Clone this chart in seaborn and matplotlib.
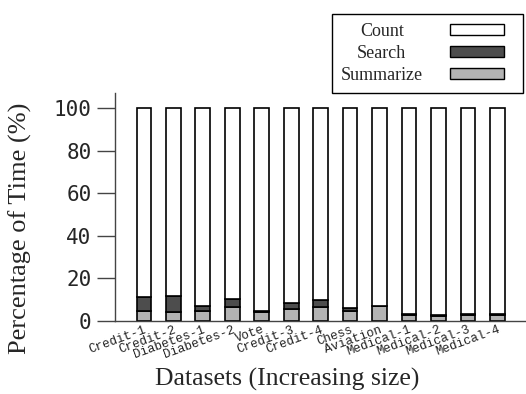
import pandas as pd
import seaborn as sns
import matplotlib
matplotlib.use("Agg")
import matplotlib.pyplot as plt
from matplotlib.patches import Patch, Rectangle
from matplotlib.legend_handler import HandlerPatch

datasets = ["Credit-1", "Credit-2", "Diabetes-1", "Diabetes-2", "Vote", "Credit-3",
            "Credit-4", "Chess", "Aviation", "Medical-1", "Medical-2", "Medical-3", "Medical-4"]
summarize = [4.8, 4.4, 4.7, 6.7, 4.0, 5.6, 6.6, 4.5, 6.9, 3.0, 2.5, 3.0, 3.0]
search = [6.3, 7.5, 2.5, 3.8, 0.8, 3.0, 3.4, 1.7, 0.3, 0.3, 0.3, 0.3, 0.3]
count = [100 - a - b for a, b in zip(summarize, search)]
legend_labels = ["Count", "Search", "Summarize"]

df = pd.DataFrame({"Dataset": datasets, "Summarize": summarize,
                   "Search": search, "Count": count})
df["SearchBottom"] = df["Summarize"]
df["CountBottom"] = df["Summarize"] + df["Search"]

sns.set_style("ticks")

fig = plt.figure(figsize=(5.26, 3.94), dpi=100)
ax = fig.add_axes([115 / 526, 1 - 321 / 394, 1 - 115 / 526, 107 * 2.13 / 394])

# stacked bars
sns.barplot(x="Dataset", y="Summarize", data=df, color="#b3b3b3", width=0.5,
            edgecolor="black", linewidth=1.2, saturation=1, ax=ax)
sns.barplot(x="Dataset", y="Search", data=df, bottom=df["SearchBottom"], color="#4d4d4d",
            width=0.5, edgecolor="black", linewidth=1.2, saturation=1, ax=ax)
sns.barplot(x="Dataset", y="Count", data=df, bottom=df["CountBottom"], color="white",
            width=0.5, edgecolor="black", linewidth=1.2, saturation=1, ax=ax)

ax.set_xlim(-0.98, 12.97)
ax.set_ylim(0, 107)
ax.set_yticks([0, 20, 40, 60, 80, 100])
ax.set_xlabel("")
ax.set_ylabel("")

for s in ["top", "right"]:
    ax.spines[s].set_visible(False)
for s in ["left", "bottom"]:
    ax.spines[s].set_color("#444444")
    ax.spines[s].set_linewidth(1.0)

ax.tick_params(axis="y", direction="out", length=13, width=1.0, color="#444444", pad=4)
ax.tick_params(axis="x", length=0, pad=2)
for t in ax.get_yticklabels():
    t.set_fontfamily("DejaVu Sans Mono")
    t.set_fontsize(15)
for t in ax.get_xticklabels():
    t.set_fontfamily("Liberation Mono")
    t.set_fontsize(9)
    t.set_color("#222222")
    t.set_rotation(20)
    t.set_ha("right")
    t.set_rotation_mode("anchor")

fig.text(20 / 526, 1 - 228 / 394, "Percentage of Time (%)", rotation=90,
         ha="center", va="center", fontsize=19, family="Liberation Serif")
fig.text(287 / 526, 1 - 379 / 394, "Datasets (Increasing size)",
         ha="center", va="center", fontsize=18.5, family="Liberation Serif")


# legend swatch only fills the left part of its slot (extra room on the right)
def short_rect(legend, orig_handle, xdescent, ydescent, width, height, fontsize):
    return Rectangle((-xdescent, -ydescent), width * 54 / 64, height)


handles = [Patch(facecolor="white", edgecolor="black"),
           Patch(facecolor="#4d4d4d", edgecolor="black"),
           Patch(facecolor="#b3b3b3", edgecolor="black")]
leg = fig.legend(handles, legend_labels, loc="upper right",
                 bbox_to_anchor=(523 / 526, 1 - 14 / 394), markerfirst=False,
                 prop={"family": "Liberation Serif", "size": 13}, fancybox=False,
                 framealpha=1, edgecolor="black", handlelength=3.55, handleheight=0.55,
                 labelspacing=0.28, borderaxespad=0, handletextpad=1.5, borderpad=0.5,
                 handler_map={Patch: HandlerPatch(patch_func=short_rect)})
leg.get_frame().set_linewidth(1.0)

# centre the legend texts in their column, as in the original
fig.canvas.draw()
inv = fig.transFigure.inverted()
boxes = [t.get_window_extent() for t in leg.get_texts()]
xc = (min(b.x0 for b in boxes) + max(b.x1 for b in boxes)) / 2
for t, b in zip(leg.get_texts(), boxes):
    t.set_alpha(0)
    xf, yf = inv.transform((xc, (b.y0 + b.y1) / 2))
    fig.text(xf, yf, t.get_text(), ha="center", va="center", zorder=10,
             family="Liberation Serif", fontsize=13)

fig.savefig("out.png", dpi=100)
